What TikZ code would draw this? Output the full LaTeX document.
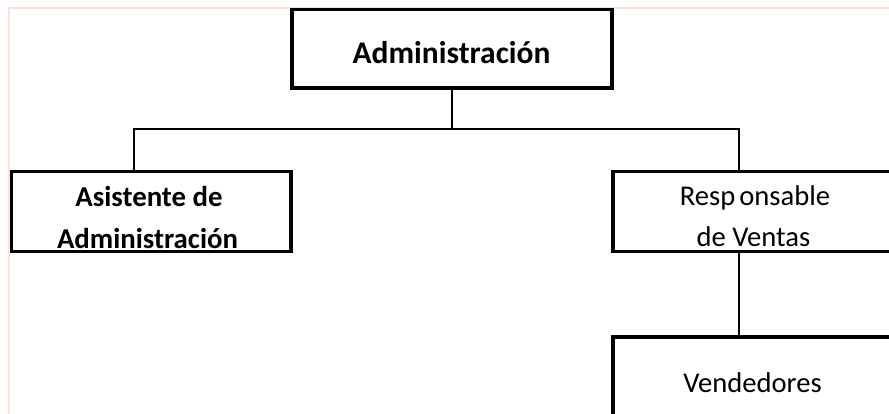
\documentclass[tikz,border=0pt]{standalone}
\usepackage{fontspec}
\setmainfont{Carlito}
\usepackage{xcolor}
\usepackage{tikz}
\definecolor{marco}{HTML}{FBE4D5}

\begin{document}
\begin{tikzpicture}[x=1pt,y=-1pt,
   caja/.style={draw,line width=3.5pt,rectangle,inner sep=0pt,outer sep=0pt,anchor=north west},
   linea/.style={draw,line width=2pt},
   titulo/.style={font=\fontsize{31.5}{38}\selectfont\bfseries,anchor=base,inner sep=0pt},
   negrita/.style={font=\fontsize{28.8}{34}\selectfont\bfseries,anchor=base,inner sep=0pt},
   normal/.style={font=\fontsize{28.6}{34}\selectfont,anchor=base,inner sep=0pt}]

  \useasboundingbox (0,0) rectangle (889,414);
  \clip (0,0) rectangle (889,414);

  % marco de la pagina
  \draw[marco,line width=2pt] (9,430) -- (9,8.3) -- (900,8.3);

  % cajas
  \node[caja,minimum width=320pt,minimum height=78.5pt](admin) at (292,9.5) {};
  \node[caja,minimum width=279.5pt,minimum height=80pt](asist) at (11.5,171.5) {};
  \node[caja,minimum width=300pt,minimum height=80pt](resp) at (613,171.5) {};
  \node[caja,minimum width=300pt,minimum height=100pt](vend) at (613,337) {};

  % textos
  \node[titulo](t-admin) at (451.5,64) {Administración};
  \node[negrita](t-asist1) at (149,207) {Asistente de};
  \node[negrita](t-asist2) at (147.5,248) {Administración};
  \node[normal](t-resp1) at (755,206) {Resp\hspace{4pt}onsable};
  \node[normal](t-resp2) at (753.5,247) {de Ventas};
  \node[normal](t-vend) at (752.5,392) {Vendedores};

  % conectores
  \coordinate (bus-i) at (133.8,129.5);
  \coordinate (bus-d) at (739.2,129.5);
  \draw[linea] (admin.south) -- (admin.south |- bus-i);
  \draw[linea] (asist.north -| bus-i) -- (bus-i) -- (bus-d) -- (resp.north -| bus-d);
  \draw[linea] (resp.south -| bus-d) -- (vend.north -| bus-d);
\end{tikzpicture}
\end{document}
